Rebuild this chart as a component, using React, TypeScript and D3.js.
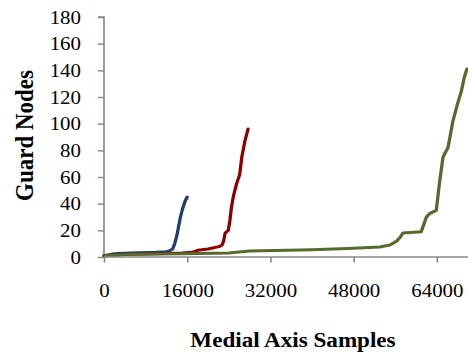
import React, { useRef, useEffect } from 'react';
import * as d3 from 'd3';

// sample counts (x) and guard node counts (y)
const blueX = [0, 2000, 5000, 10000, 12000, 12800, 13200, 13600, 14000, 14300, 14700, 15100, 15600, 16000];
const blueY = [1, 2.5, 3, 3.5, 4, 5, 6, 10, 16, 22, 30, 36, 42, 45];

const redX = [0, 5000, 10000, 15000, 17000, 18000, 20000, 22300, 22700, 23000, 23300, 23900, 24200, 24500, 24850, 25500, 26100, 26500, 27100, 27700];
const redY = [1, 2, 2.5, 3, 3.5, 5, 6, 8, 9, 12, 18, 20, 27, 37, 45, 55, 62, 75, 87, 96];

const greenX = [0, 5000, 15000, 24000, 28000, 40000, 48000, 53000, 55000, 56300, 57000, 57500, 61000, 62000, 62600, 63900, 64500, 65200, 66150, 67100, 68000, 68700, 69300, 69800];
const greenY = [1, 2, 2.5, 3, 4.5, 5.5, 6.5, 7.5, 9, 12, 15, 18, 19, 30, 32.5, 35, 55, 75, 82, 102, 115, 124, 135, 141];

const xTicks = [0, 16000, 32000, 48000, 64000];
const yTicks = [0, 20, 40, 60, 80, 100, 120, 140, 160, 180];

const series = [
  { name: 'blue', xs: blueX, ys: blueY, color: '#1f3f6e' },
  { name: 'red', xs: redX, ys: redY, color: '#8e0000' },
  { name: 'green', xs: greenX, ys: greenY, color: '#56692e' },
];

const width = 468;
const height = 352;
// the original picture is a bit wider than tall, so draw in a narrower box and stretch it
const stretch = 1.1;
const innerW = width / stretch;

const App = () => {
  const svgRef = useRef<SVGSVGElement | null>(null);

  useEffect(() => {
    const svg = d3.select(svgRef.current);
    svg.selectAll('*').remove();

    const left = 104 / stretch;
    const top = 17;
    const bottom = 95;
    const font = '"Liberation Serif", "Times New Roman", serif';

    const x = d3.scaleLinear().domain([0, 70000]).range([left, innerW]);
    const y = d3.scaleLinear().domain([0, 180]).range([height - bottom, top]);

    const axisColor = '#888';
    const tick = 6 / stretch;

    // y axis
    const yAxis = svg.append('g')
      .attr('transform', `translate(${left},0)`)
      .call(d3.axisLeft(y).tickValues(yTicks).tickSize(tick).tickFormat(d3.format('d')));
    yAxis.select('.domain').attr('stroke', axisColor).attr('stroke-width', 1.5).attr('d', `M${-tick},${y(180)}H0V${y(0)}`);
    yAxis.selectAll('.tick line').attr('stroke', axisColor).attr('stroke-width', 1.5);
    yAxis.selectAll('.tick text')
      .attr('x', (81 - 104) / stretch)
      .attr('text-anchor', 'end')
      .attr('font-family', font)
      .attr('font-size', 19)
      .attr('fill', '#000');

    // lines
    series.forEach((s) => {
      const pts = s.xs.map((v, i) => [v, s.ys[i]] as [number, number]);
      const line = d3.line<[number, number]>()
        .x((d) => x(d[0]))
        .y((d) => y(d[1]));
      svg.append('path')
        .datum(pts)
        .attr('fill', 'none')
        .attr('stroke', s.color)
        .attr('stroke-width', 3)
        .attr('stroke-linejoin', 'round')
        .attr('stroke-linecap', 'round')
        .attr('d', line);
    });

    // x axis
    const xAxis = svg.append('g')
      .attr('transform', `translate(0,${y(0)})`)
      .call(d3.axisBottom(x).tickValues(xTicks).tickSize(5.5).tickPadding(21).tickFormat(d3.format('d')));
    xAxis.select('.domain').attr('stroke', axisColor).attr('stroke-width', 1.5).attr('d', `M${left},0H${innerW}`);
    xAxis.selectAll('.tick line').attr('stroke', axisColor).attr('stroke-width', 1.5);
    xAxis.selectAll('.tick text').attr('font-family', font).attr('font-size', 19).attr('fill', '#000');

    svg.append('text')
      .attr('x', 293 / stretch)
      .attr('y', 347)
      .attr('text-anchor', 'middle')
      .attr('font-family', font)
      .attr('font-weight', 'bold')
      .attr('font-size', 21)
      .text('Medial Axis Samples');

    svg.append('text')
      .attr('transform', `translate(${33 / stretch},135.5) rotate(-90)`)
      .attr('text-anchor', 'middle')
      .attr('font-family', font)
      .attr('font-weight', 'bold')
      .attr('font-size', 23)
      .text('Guard Nodes');
  }, []);

  return (
    <svg
      ref={svgRef}
      width={width}
      height={height}
      viewBox={`0 0 ${innerW} ${height}`}
      preserveAspectRatio="none"
      style={{ position: 'absolute', left: 0, top: 0, background: '#fff' }}
    />
  );
};

export default App;
